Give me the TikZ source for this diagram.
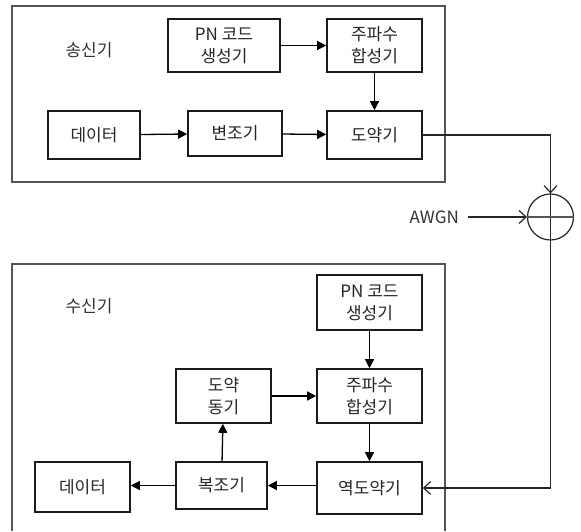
\documentclass[tikz,border=0pt]{standalone}
\usepackage{fontspec}
\setmainfont{Noto Sans CJK KR}
\usetikzlibrary{arrows.meta}
\definecolor{linegray}{HTML}{555555}
\definecolor{boxline}{HTML}{1A1A1A}
\tikzset{
  blk/.style={draw=boxline, line width=1.6pt, align=center, inner sep=0pt,
    font=\fontsize{17}{22}\selectfont, text=black!85},
  conn/.style={line width=1.3pt, draw=black, -{Triangle[length=9pt,width=9pt]}},
  openconn/.style={line width=1.2pt, draw=black!85, -{Straight Barb[length=7pt,width=13pt,line width=1.2pt]}},
  outerframe/.style={draw=linegray, line width=1.3pt},
  lbl/.style={font=\fontsize{17}{22}\selectfont, text=black!80, inner sep=0pt}
}
\begin{document}
\begin{tikzpicture}[x=1pt,y=-1pt]
\useasboundingbox (0,0) rectangle (581,531);
\fill[white] (0,0) rectangle (581,531);

% outer frames
\draw[outerframe] (12,6) rectangle (445,182);
\draw[outerframe] (12,531) -- (12,264) -- (445,264) -- (445,531);
\node[lbl] (txlabel) at (89,50) {송신기};
\node[lbl] (rxlabel) at (89,306) {수신기};

% transmitter
\node[blk, minimum width=112pt, minimum height=53pt] (pn1) at (224,45.5) {PN 코드\\생성기};
\node[blk, minimum width=95pt, minimum height=53pt] (fs1) at (374.5,45.5) {주파수\\합성기};
\node[blk, minimum width=92pt, minimum height=48pt] (data1) at (94,135) {데이터};
\node[blk, minimum width=94pt, minimum height=45pt] (mod) at (235,133.5) {변조기};
\node[blk, minimum width=95pt, minimum height=48pt] (hop) at (374.5,135) {도약기};

\draw[conn] (pn1) -- (fs1);
\draw[conn] (fs1) -- (hop);
\draw[conn] (data1) -- (mod);
\draw[conn] (mod) -- (hop);

% channel
\node[draw=black!85, line width=1.2pt, circle, minimum size=46pt, inner sep=0pt] (sum) at (550.5,217) {};
\draw[line width=1.2pt, draw=black!85] (sum.north) -- (sum.south);
\draw[line width=1.2pt, draw=linegray] (sum.west) -- (sum.east);
\node[lbl, anchor=east] (awgn) at (459,217) {AWGN};
\path (awgn.east) ++(9pt,0) coordinate (awgnstart);
\draw[openconn] (awgnstart) -- (sum.west);
\draw[openconn] (hop.east) -| (sum.north);

% receiver
\node[blk, minimum width=105pt, minimum height=55pt] (pn2) at (369.5,302.5) {PN 코드\\생성기};
\node[blk, minimum width=105pt, minimum height=54pt] (fs2) at (369.5,396) {주파수\\합성기};
\node[blk, minimum width=95pt, minimum height=54pt] (sync) at (223.5,396) {도약\\동기};
\node[blk, minimum width=91pt, minimum height=47pt] (demod) at (221.5,485.5) {복조기};
\node[blk, minimum width=95pt, minimum height=50pt] (data2) at (82.5,487) {데이터};
\node[blk, minimum width=105pt, minimum height=52pt] (dehop) at (369.5,488) {역도약기};

\draw[conn] (pn2) -- (fs2);
\draw[conn] (sync) -- (fs2);
\draw[conn] (fs2) -- (dehop);
\draw[conn] (dehop.west |- demod) -- (demod.east);
\draw[conn] (demod) -- (data2.east |- demod);
\draw[conn] (demod) -- (sync);
\draw[openconn] (sum.south) |- (dehop.east);
\end{tikzpicture}
\end{document}
